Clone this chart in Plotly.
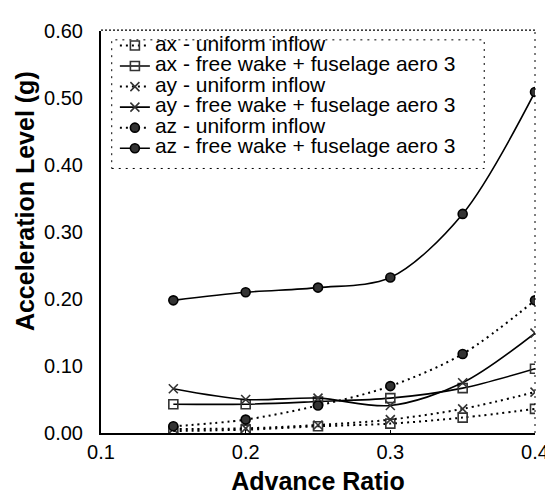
import plotly.graph_objects as go

advance_ratio = [0.15, 0.20, 0.25, 0.30, 0.35, 0.40]

ax_uniform = [0.003, 0.005, 0.010, 0.014, 0.023, 0.036]
ax_freewake = [0.043, 0.043, 0.047, 0.052, 0.067, 0.096]
ay_uniform = [0.006, 0.007, 0.012, 0.020, 0.036, 0.061]
ay_freewake = [0.066, 0.050, 0.052, 0.041, 0.075, 0.149]
az_uniform = [0.010, 0.020, 0.041, 0.070, 0.118, 0.198]
az_freewake = [0.198, 0.210, 0.217, 0.232, 0.327, 0.509]

series_names = [
    "ax - uniform inflow",
    "ax - free wake + fuselage aero 3",
    "ay - uniform inflow",
    "ay - free wake + fuselage aero 3",
    "az - uniform inflow",
    "az - free wake + fuselage aero 3",
]
series_values = [ax_uniform, ax_freewake, ay_uniform, ay_freewake, az_uniform, az_freewake]
series_symbols = ["square-open", "square-open", "x-thin-open", "x-thin-open", "circle", "circle"]
series_dash = ["dot", "solid", "dot", "solid", "dot", "solid"]

x_ticks = [0.1, 0.2, 0.3, 0.4]
x_tick_labels = ["0.1", "0.2", "0.3", "0.4"]
y_ticks = [0.0, 0.1, 0.2, 0.3, 0.4, 0.5, 0.6]
y_tick_labels = ["0.00", "0.10", "0.20", "0.30", "0.40", "0.50", "0.60"]

fig = go.Figure()
for name, vals, sym, dash in zip(series_names, series_values, series_symbols, series_dash):
    fig.add_trace(go.Scatter(
        x=advance_ratio, y=vals,
        name='<span style="font-size:21px">' + name + '</span>',
        mode="lines+markers",
        line=dict(color="black", width=2 if dash == "dot" else 1.6,
                  dash="2px,4px" if dash == "dot" else "solid",
                  shape="spline", smoothing=0.9),
        marker=dict(symbol=sym, size=9, color="#333333",
                    line=dict(color="black", width=1.6)),
    ))

fig.update_layout(
    width=553, height=504,
    margin=dict(l=93, r=15, t=16, b=79),
    paper_bgcolor="white", plot_bgcolor="white",
    font=dict(family="Liberation Sans, Arial, Helvetica, sans-serif", color="black", size=20),
    showlegend=True,
    legend=dict(x=0.032, y=1.002, xanchor="left", yanchor="top",
                bgcolor="rgba(255,255,255,0)", borderwidth=0,
                font=dict(size=13.5), tracegroupgap=0),
    xaxis=dict(range=[0.1, 0.4], tickvals=x_ticks, ticktext=x_tick_labels,
               showgrid=False, zeroline=False, showline=True, linecolor="black", linewidth=1.6,
               ticks="inside", ticklen=3, tickcolor="black", tickfont=dict(size=20),
               ticklabelstandoff=0,
               title=dict(text="<b>Advance Ratio</b>", font=dict(size=25), standoff=11)),
    yaxis=dict(range=[0, 0.6], tickvals=y_ticks, ticktext=y_tick_labels,
               showgrid=False, zeroline=False, showline=True, linecolor="black", linewidth=2,
               ticks="", tickfont=dict(size=20), ticklabelstandoff=12),
    annotations=[
        dict(text="<b>Acceleration Level (g)</b>", textangle=-90, xref="paper", yref="paper",
             x=-0.175, y=0.577, xanchor="center", yanchor="middle", showarrow=False,
             font=dict(size=25)),
    ],
    shapes=[
        dict(type="line", xref="paper", yref="paper", x0=0, x1=1, y0=1.002, y1=1.002,
             line=dict(color="black", width=1.2, dash="2px,2px")),
        dict(type="line", xref="paper", yref="paper", x0=1, x1=1, y0=0, y1=1,
             line=dict(color="black", width=1, dash="2px,5px")),
        dict(type="rect", xref="paper", yref="paper", x0=0.0247, x1=0.883, y0=0.658, y1=0.978,
             line=dict(color="black", width=1, dash="2px,5px")),
    ],
)

fig.write_html("out.html")
